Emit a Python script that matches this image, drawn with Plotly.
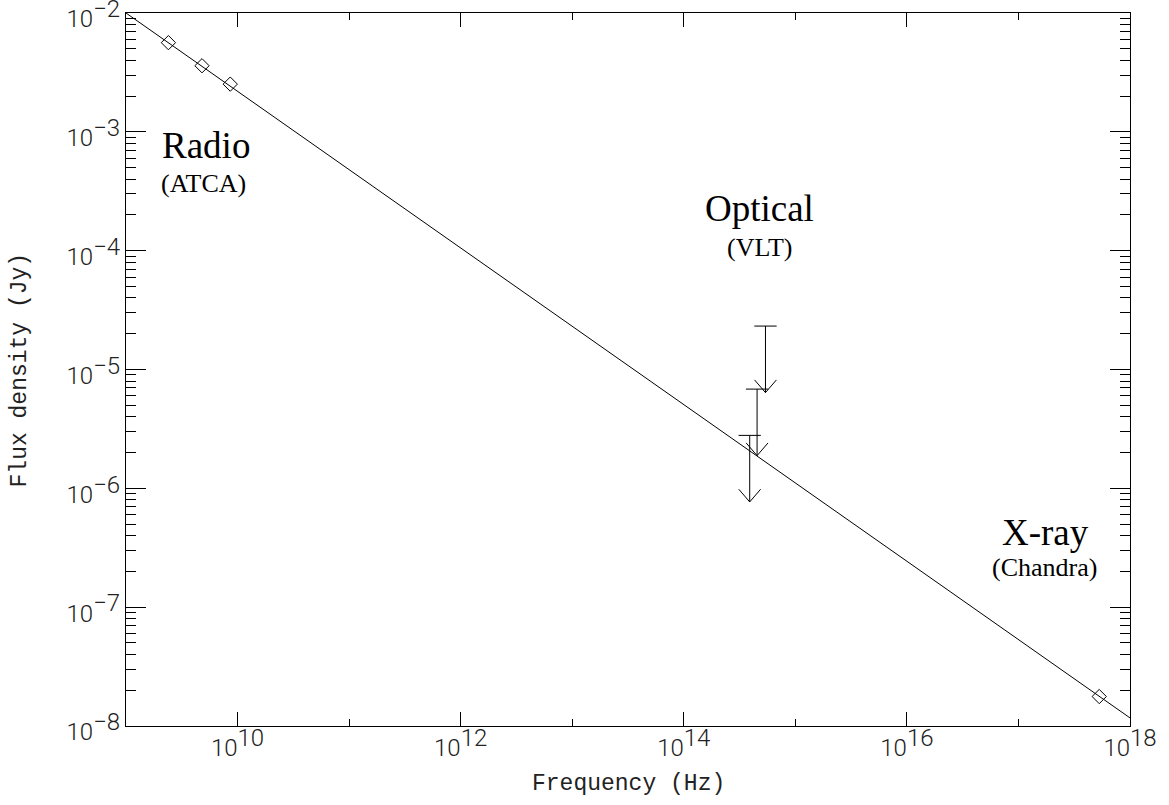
import plotly.graph_objects as go

# ---- data ----
radio_freq = [2.4e9, 4.8e9, 8.6e9]          # Hz (ATCA)
radio_flux = [5.63e-3, 3.6e-3, 2.52e-3]     # Jy
xray_freq = [5.3e17]                         # Hz (Chandra)
xray_flux = [1.77e-8]                        # Jy
opt_freq = [5.4e14, 4.54e14, 3.9e14]         # Hz (VLT upper limits)
opt_limit = [2.32e-5, 6.84e-6, 2.79e-6]      # Jy
fit_freq = [1e9, 1e18]                       # power-law fit end points
fit_flux = [1e-2, 1.17e-8]

x_major = [1e10, 1e12, 1e14, 1e16, 1e18]
x_major_exp = ["10", "12", "14", "16", "18"]
x_minor = [1e9, 1e11, 1e13, 1e15, 1e17]
y_major = [1e-8, 1e-7, 1e-6, 1e-5, 1e-4, 1e-3, 1e-2]
y_major_exp = ["\u22128", "\u22127", "\u22126", "\u22125", "\u22124", "\u22123", "\u22122"]
y_minor = [m * 10.0 ** e for e in range(-8, -2) for m in range(2, 10)]

# ---- style constants ----
ARROW_DEX = 0.56      # arrow length (decades)
CAP_DEX = 0.10        # cap half width (decades in x)
HEAD_W = 0.098        # arrow head half width (decades in x)
HEAD_H = 0.107        # arrow head height (decades in y)
PX = 24
TICK_FONT = dict(family="Roboto", size=PX, color="#222222", weight=300)


def sup(base, exp):
    return f'{base}<sup><span style="font-size:{PX}px">{exp}</span></sup>'


x_text = [sup("10", e) for e in x_major_exp]
y_text = [sup("10", e) for e in y_major_exp]

# build upper-limit arrow geometry from the limit values
ux, uy = [], []
for f, s in zip(opt_freq, opt_limit):
    tip = s * 10 ** (-ARROW_DEX)
    ux += [f, f, None]
    uy += [s, tip, None]
    ux += [f * 10 ** (-CAP_DEX), f * 10 ** CAP_DEX, None]
    uy += [s, s, None]
    ux += [f * 10 ** (-HEAD_W), f, f * 10 ** HEAD_W, None]
    uy += [tip * 10 ** HEAD_H, tip, tip * 10 ** HEAD_H, None]

fig = go.Figure()
fig.add_trace(go.Scatter(x=fit_freq, y=fit_flux, mode="lines",
                         line=dict(color="black", width=1), showlegend=False,
                         hoverinfo="skip"))
fig.add_trace(go.Scatter(x=ux, y=uy, mode="lines",
                         line=dict(color="black", width=1), showlegend=False,
                         hoverinfo="skip"))
fig.add_trace(go.Scatter(x=radio_freq + xray_freq, y=radio_flux + xray_flux,
                         mode="markers",
                         marker=dict(symbol="diamond-open", size=11,
                                     color="black", line=dict(width=1, color="black")),
                         showlegend=False))

axis_common = dict(type="log", showline=True, linecolor="black", linewidth=1,
                   mirror="ticks", ticks="inside", tickcolor="black", tickwidth=1,
                   showgrid=False, zeroline=False, tickmode="array", automargin=False,
                   tickfont=TICK_FONT, ticklabeloverflow="allow")

fig.update_xaxes(**axis_common, range=[9 - 1e-6, 18 + 1e-6], tickvals=x_major, ticktext=x_text,
                 ticklen=14,
                 minor=dict(tickmode="array", tickvals=x_minor, ticks="inside",
                            ticklen=7, tickcolor="black", tickwidth=1, showgrid=False))
fig.update_yaxes(**axis_common, range=[-8 - 1e-6, -2 + 1e-6], tickvals=y_major, ticktext=y_text,
                 ticklen=20, ticklabelshift=6,
                 minor=dict(tickmode="array", tickvals=y_minor, ticks="inside",
                            ticklen=10, tickcolor="black", tickwidth=1, showgrid=False))

serif = "Liberation Serif"
labels = [
    ("Radio", 9.305, -3.114, "left", 37),
    ("(ATCA)", 9.30, -3.433, "left", 26),
    ("Optical", 14.681, -3.644, "center", 37),
    ("(VLT)", 14.677, -3.976, "center", 26),
    ("X-ray", 17.244, -6.371, "center", 37),
    ("(Chandra)", 17.235, -6.666, "center", 26),
]
for txt, lx, ly, anc, size in labels:
    fig.add_annotation(text=txt, x=lx, y=ly, xref="x", yref="y",
                       xanchor=anc, yanchor="middle", showarrow=False,
                       font=dict(family=serif, size=size, color="black"))

title_font = dict(family="Liberation Mono", size=23, color="#222222")
fig.add_annotation(text="Frequency (Hz)", x=0.5, y=-0.0813, xref="paper", yref="paper",
                   xanchor="center", yanchor="middle", showarrow=False, font=title_font)
fig.add_annotation(text="Flux density (Jy)", x=-0.1056, y=0.5, xref="paper", yref="paper",
                   xanchor="center", yanchor="middle", showarrow=False, textangle=-90,
                   font=title_font)

fig.update_layout(width=1169, height=805, plot_bgcolor="white", paper_bgcolor="white",
                  margin=dict(l=126, r=39, t=13, b=79), showlegend=False)

fig.write_html("out.html", config={"displayModeBar": False},
               post_script="document.body.style.margin='0';")
